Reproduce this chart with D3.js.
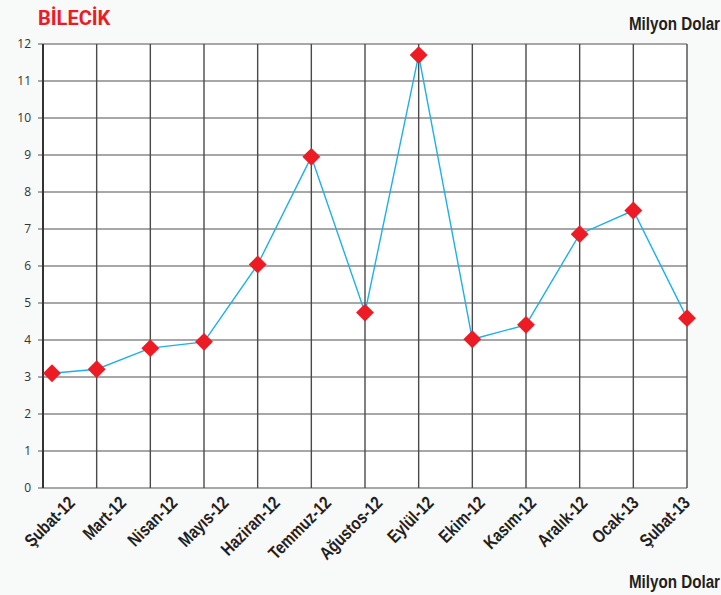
<!DOCTYPE html>
<html>
<head>
<meta charset="utf-8">
<script src="https://cdn.jsdelivr.net/npm/d3@7"></script>
<style>
  body { margin: 0; background: #f8f9f9; }
  svg { display: block; }
  .baslik { font-family: Roboto, "Noto Sans", sans-serif; font-weight: 700; }
  .birim, .ay { font-family: "Liberation Sans Narrow", "Arial Narrow", "Liberation Sans", sans-serif; font-weight: 700; fill: #231f20; }
  .eksen text { font-family: "Open Sans", "Noto Sans", sans-serif; font-size: 12px; fill: #333; }
</style>
</head>
<body>
<svg id="grafik" width="721" height="595"></svg>
<script>
var aylar = ["Şubat-12", "Mart-12", "Nisan-12", "Mayıs-12", "Haziran-12", "Temmuz-12", "Ağustos-12",
             "Eylül-12", "Ekim-12", "Kasım-12", "Aralık-12", "Ocak-13", "Şubat-13"];
var degerler = [3.10, 3.21, 3.78, 3.95, 6.04, 8.95, 4.74, 11.70, 4.02, 4.41, 6.86, 7.50, 4.59];
var yTikler = [0, 1, 2, 3, 4, 5, 6, 7, 8, 9, 10, 11, 12];

var margin = {top: 44, right: 34, bottom: 107, left: 43};
var svg = d3.select("#grafik"),
    width  = svg.attr("width") - margin.left - margin.right,
    height = svg.attr("height") - margin.top - margin.bottom;

var x = d3.scalePoint()
    .domain(aylar)
    .range([0, width]);
// etiketler kendi araliginda duruyor
var xEtiket = d3.scalePoint()
    .domain(aylar)
    .range([29, width]);
var y = d3.scaleLinear()
    .domain([0, 12])
    .range([height, 0]);

var g = svg.append("g")
    .attr("transform", "translate(" + margin.left + "," + margin.top + ")");

g.append("rect")
    .attr("width", width)
    .attr("height", height)
    .attr("fill", "#fff");

// yatay cizgiler
g.selectAll(".yatay")
    .data(yTikler)
    .enter().append("line")
    .attr("class", "yatay")
    .attr("x1", -5).attr("x2", width)
    .attr("y1", function(d) { return y(d); })
    .attr("y2", function(d) { return y(d); })
    .attr("stroke", "#a7a7a7")
    .attr("stroke-width", 1.8);

// dikey cizgiler
g.selectAll(".dikey")
    .data(aylar)
    .enter().append("line")
    .attr("class", "dikey")
    .attr("x1", function(d) { return x(d); })
    .attr("x2", function(d) { return x(d); })
    .attr("y1", 0).attr("y2", height)
    .attr("stroke", function(d, i) { return i == 0 ? "#333" : "#4a4a4a"; })
    .attr("stroke-width", function(d, i) { return i == 0 ? 2 : 1.4; });

g.append("g")
    .attr("class", "eksen")
    .call(d3.axisLeft(y).tickValues(yTikler).tickSize(0).tickPadding(12))
    .call(function(s) { s.select(".domain").remove(); });

var cizgi = d3.line()
    .x(function(d, i) { return Math.max(x(aylar[i]), 9); })
    .y(function(d) { return y(d); });

g.append("path")
    .datum(degerler)
    .attr("fill", "none")
    .attr("stroke", "#1fb0e8")
    .attr("stroke-width", 1.4)
    .attr("d", cizgi);

g.selectAll(".nokta")
    .data(degerler)
    .enter().append("path")
    .attr("class", "nokta")
    .attr("d", d3.symbol().type(d3.symbolSquare).size(160))
    .attr("transform", function(d, i) {
        return "translate(" + Math.max(x(aylar[i]), 9) + "," + y(d) + ") rotate(45)"; })
    .attr("fill", "#ed1c24");

g.selectAll(".ay")
    .data(aylar)
    .enter().append("text")
    .attr("class", "ay")
    .attr("text-anchor", "end")
    .attr("font-size", 18)
    .attr("transform", function(d) {
        return "translate(" + (xEtiket(d) + 4) + "," + (height + 16) + ") rotate(-45) scale(0.82,1)"; })
    .text(function(d) { return d; });

svg.append("text")
    .attr("class", "baslik")
    .attr("x", 38).attr("y", 25)
    .attr("font-size", 20)
    .attr("fill", "#ed1c24")
    .text("BİLECİK");

svg.append("text")
    .attr("class", "birim")
    .attr("transform", "translate(720,30) scale(0.8,1)")
    .attr("text-anchor", "end")
    .attr("font-size", 19)
    .text("Milyon Dolar");

svg.append("text")
    .attr("class", "birim")
    .attr("transform", "translate(720,588) scale(0.8,1)")
    .attr("text-anchor", "end")
    .attr("font-size", 19)
    .text("Milyon Dolar");
</script>
</body>
</html>
